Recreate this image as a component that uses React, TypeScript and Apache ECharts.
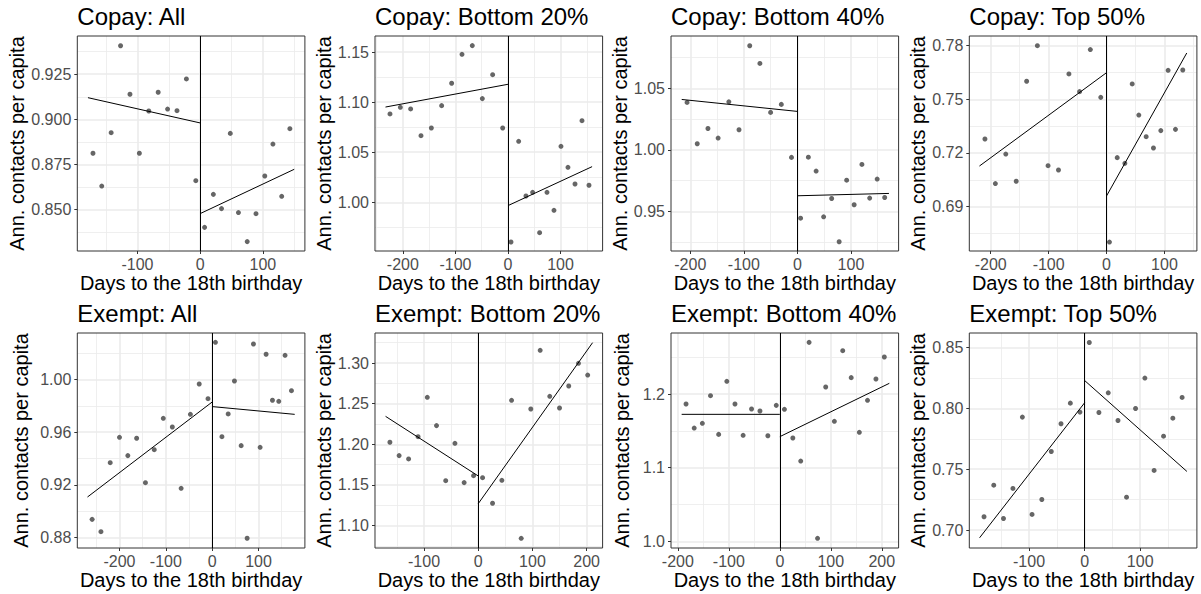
import React, { useEffect, useRef } from "react";
import * as echarts from "echarts";

// ---------- data ----------
const panelTitles = [
  "Copay: All",
  "Copay: Bottom 20%",
  "Copay: Bottom 40%",
  "Copay: Top 50%",
  "Exempt: All",
  "Exempt: Bottom 20%",
  "Exempt: Bottom 40%",
  "Exempt: Top 50%",
];

const xAxisTitle = "Days to the 18th birthday";
const yAxisTitle = "Ann. contacts per capita";

const copayAllPoints = [
  [-171, 0.8812], [-157, 0.863], [-142, 0.8926], [-127, 0.9408], [-112, 0.9139], [-97, 0.8812],
  [-82, 0.9046], [-67, 0.915], [-52, 0.9057], [-37, 0.9048], [-22, 0.9224], [-7, 0.866],
  [7, 0.8401], [21, 0.8584], [34, 0.8505], [48, 0.8922], [61, 0.8483], [75, 0.8322],
  [89, 0.8477], [103, 0.8686], [116, 0.8863], [130, 0.8573], [143, 0.8948],
];
const copayAllFitBefore = [[-179, 0.912], [0, 0.898]];
const copayAllFitAfter = [[1, 0.8479], [150, 0.8723]];

const copayB20Points = [
  [-224.5, 1.0882], [-204.8, 1.0948], [-185.2, 1.0932], [-165.5, 1.0665], [-145.8, 1.0742],
  [-126.2, 1.0965], [-107.2, 1.1188], [-87.5, 1.1477], [-67.9, 1.1564], [-48.8, 1.1035],
  [-29.2, 1.1274], [-10.1, 1.0742], [5.7, 0.9604], [20.3, 1.0609], [34.2, 1.0063],
  [46.9, 1.01], [60.2, 0.9697], [74.2, 1.01], [87.5, 0.992], [100.8, 1.0559],
  [114.1, 1.0349], [127.5, 1.0183], [140.8, 1.0815], [154.1, 1.017],
];
const copayB20FitBefore = [[-233, 1.0951], [0, 1.1178]];
const copayB20FitAfter = [[0, 0.9967], [160, 1.0356]];

const copayB40Points = [
  [-206, 1.0385], [-187, 1.0049], [-167, 1.0173], [-148, 1.0095], [-128, 1.039], [-109, 1.0163],
  [-89, 1.0846], [-70, 1.0702], [-50, 1.0304], [-30, 1.0369], [-11, 0.9938], [6, 0.9444],
  [20.5, 0.994], [35, 0.9827], [49, 0.9455], [64, 0.9604], [78, 0.9252], [92, 0.9753],
  [106, 0.9553], [120.5, 0.9881], [135, 0.9607], [149, 0.9762], [163, 0.9612],
];
const copayB40FitBefore = [[-216, 1.0409], [0, 1.0312]];
const copayB40FitAfter = [[0, 0.9626], [171, 0.9645]];

const copayTop50Points = [
  [-210, 0.7278], [-192, 0.7029], [-174, 0.7194], [-156, 0.7042], [-138, 0.7601], [-119.5, 0.78],
  [-101, 0.7129], [-83, 0.7105], [-65, 0.7642], [-46.6, 0.7543], [-28, 0.7778], [-10, 0.7511],
  [5, 0.6702], [18.4, 0.7174], [31.6, 0.7142], [44.3, 0.7586], [55.7, 0.7412], [68.4, 0.7291],
  [81, 0.7228], [93.7, 0.7325], [106.3, 0.7662], [119, 0.7332], [131.6, 0.7664],
];
const copayTop50FitBefore = [[-219.5, 0.7127], [0, 0.7649]];
const copayTop50FitAfter = [[0, 0.696], [138.5, 0.7759]];

const exemptAllPoints = [
  [-259, 0.8937], [-240, 0.8843], [-220, 0.9368], [-200, 0.9561], [-182, 0.9422], [-163, 0.9554],
  [-144, 0.9216], [-125, 0.9467], [-105.5, 0.9706], [-86, 0.964], [-67, 0.9173], [-47, 0.9736],
  [-28, 0.9967], [-9, 0.9855], [7, 1.0284], [21, 0.9566], [34.5, 0.9739], [48, 0.999],
  [62.5, 0.9498], [75.4, 0.8793], [89, 1.0271], [103.4, 0.9485], [116.3, 1.0193], [130, 0.9843],
  [143.6, 0.9835], [157.2, 1.0185], [171, 0.9916],
];
const exemptAllFitBefore = [[-269, 0.9107], [0, 0.983]];
const exemptAllFitAfter = [[0, 0.9795], [178, 0.9736]];

const exemptB20Points = [
  [-163, 1.2025], [-146, 1.1861], [-128.5, 1.182], [-111, 1.2094], [-94, 1.2578], [-77, 1.223],
  [-60, 1.1553], [-43, 1.2012], [-26, 1.1529], [-8.6, 1.1615], [8, 1.159], [26.4, 1.1275],
  [43.6, 1.1557], [61.5, 1.2541], [79.3, 1.0844], [97, 1.2434], [114.3, 1.3156], [132, 1.259],
  [150, 1.2447], [167, 1.2717], [185, 1.2996], [202, 1.2852],
];
const exemptB20FitBefore = [[-171, 1.2344], [0, 1.1611]];
const exemptB20FitAfter = [[0, 1.127], [211, 1.325]];

const exemptB40Points = [
  [-184, 1.1864], [-168, 1.1538], [-152, 1.1602], [-136, 1.1977], [-120, 1.1452], [-104, 1.2172],
  [-88, 1.1864], [-72, 1.1439], [-55.5, 1.1796], [-39, 1.1769], [-23.5, 1.1434], [-7, 1.1846],
  [9, 1.1792], [25.5, 1.1403], [41, 1.109], [57.4, 1.2701], [74, 1.0041], [90, 1.2095],
  [107, 1.1629], [123.4, 1.2588], [140, 1.2222], [156, 1.148], [172, 1.1914], [188.6, 1.2204],
  [205, 1.2502],
];
const exemptB40FitBefore = [[-192.6, 1.1724], [0, 1.1724]];
const exemptB40FitAfter = [[0, 1.1421], [214.8, 1.2145]];

const exemptTop50Points = [
  [-181, 0.7109], [-163.5, 0.7369], [-146, 0.7095], [-129, 0.7342], [-112, 0.7929], [-94.6, 0.7128],
  [-77, 0.7251], [-60, 0.7646], [-42.5, 0.7874], [-25.7, 0.8044], [-8.4, 0.797], [8.4, 0.8543],
  [25.7, 0.7967], [42.5, 0.8129], [60, 0.7901], [75.4, 0.727], [91.6, 0.8], [108.4, 0.825],
  [125, 0.749], [142, 0.7772], [158.7, 0.792], [175.4, 0.8091],
];
const exemptTop50FitBefore = [[-189, 0.6936], [0, 0.8047]];
const exemptTop50FitAfter = [[0, 0.823], [184, 0.7482]];

// tick breaks
const xBreaks = [
  [-100, 0, 100],
  [-200, -100, 0, 100],
  [-200, -100, 0, 100],
  [-200, -100, 0, 100],
  [-200, -100, 0, 100],
  [-100, 0, 100, 200],
  [-200, -100, 0, 100, 200],
  [-100, 0, 100],
];
const yBreaks = [
  [0.85, 0.875, 0.9, 0.925],
  [1.0, 1.05, 1.1, 1.15],
  [0.95, 1.0, 1.05],
  [0.69, 0.72, 0.75, 0.78],
  [0.88, 0.92, 0.96, 1.0],
  [1.1, 1.15, 1.2, 1.25, 1.3],
  [1.0, 1.1, 1.2],
  [0.7, 0.75, 0.8, 0.85],
];
const yDecimals = [3, 2, 2, 2, 2, 2, 1, 2];

// axis limits (scale ranges)
const xLimits = [
  [-196, 167], [-253, 180], [-236, 189], [-237, 156],
  [-291, 200], [-190.5, 229.5], [-213.5, 233], [-207.5, 202],
];
const yLimits = [
  [0.827, 0.9462], [0.9514, 1.166], [0.9177, 1.0925], [0.6652, 0.7854],
  [0.8719, 1.0355], [1.0725, 1.3369], [0.991, 1.2828], [0.6852, 0.8621],
];

const panelPoints = [
  copayAllPoints, copayB20Points, copayB40Points, copayTop50Points,
  exemptAllPoints, exemptB20Points, exemptB40Points, exemptTop50Points,
];
const panelFitBefore = [
  copayAllFitBefore, copayB20FitBefore, copayB40FitBefore, copayTop50FitBefore,
  exemptAllFitBefore, exemptB20FitBefore, exemptB40FitBefore, exemptTop50FitBefore,
];
const panelFitAfter = [
  copayAllFitAfter, copayB20FitAfter, copayB40FitAfter, copayTop50FitAfter,
  exemptAllFitAfter, exemptB20FitAfter, exemptB40FitAfter, exemptTop50FitAfter,
];

// ---------- layout / style ----------
const FONT = "'Liberation Sans', Arial, Helvetica, sans-serif";
const colLeft = [77.3, 375, 671, 969.3];
const rowTop = [36, 333];
const plotW = 227.6;
const plotH = 215;
const yNameGap = [46, 40, 39, 39];

function minorBreaks(breaks: number[], lim: number[]) {
  const d = breaks[1] - breaks[0];
  const ext = [breaks[0] - d, ...breaks, breaks[breaks.length - 1] + d];
  const out: number[] = [];
  for (let i = 0; i < ext.length - 1; i++) {
    const m = (ext[i] + ext[i + 1]) / 2;
    if (m > lim[0] && m < lim[1]) out.push(m);
  }
  return out;
}

function buildOption() {
  const grid: any[] = [];
  const xAxis: any[] = [];
  const yAxis: any[] = [];
  const series: any[] = [];
  const title: any[] = [];

  panelTitles.forEach((t, i) => {
    const c = i % 4;
    const r = Math.floor(i / 4);
    grid.push({
      left: colLeft[c],
      top: rowTop[r],
      width: plotW,
      height: plotH,
      show: true,
      borderColor: "#333333",
      borderWidth: 1,
      backgroundColor: "transparent",
      z: 5,
    });
    title.push({
      text: t,
      left: colLeft[c],
      top: rowTop[r] - 31.5,
      padding: 0,
      textStyle: { fontSize: 24, fontWeight: "normal", color: "#000", fontFamily: FONT },
    });
    const gi = i;
    // major x
    xAxis.push({
      gridIndex: gi,
      type: "value",
      min: xLimits[i][0],
      max: xLimits[i][1],
      position: "bottom",
      axisLine: { show: false, onZero: false },
      axisTick: { show: true, length: 3, customValues: xBreaks[i], lineStyle: { color: "#333333", width: 1 } },
      axisLabel: { customValues: xBreaks[i], color: "#4d4d4d", fontSize: 16, margin: 5, fontFamily: FONT },
      splitLine: { show: true, lineStyle: { color: "#ebebeb", width: 1.6 } },
      name: xAxisTitle,
      nameLocation: "middle",
      nameGap: 19,
      nameTextStyle: { fontSize: 20, color: "#000", fontFamily: FONT },
    });
    // minor x
    xAxis.push({
      gridIndex: gi,
      type: "value",
      min: xLimits[i][0],
      max: xLimits[i][1],
      position: "bottom",
      axisLine: { show: false, onZero: false },
      axisTick: { show: false, customValues: minorBreaks(xBreaks[i], xLimits[i]) },
      axisLabel: { show: false },
      splitLine: { show: true, lineStyle: { color: "#ebebeb", width: 0.8 } },
    });
    // major y
    yAxis.push({
      gridIndex: gi,
      type: "value",
      min: yLimits[i][0],
      max: yLimits[i][1],
      position: "left",
      axisLine: { show: false, onZero: false },
      axisTick: { show: true, length: 3, customValues: yBreaks[i], lineStyle: { color: "#333333", width: 1 } },
      axisLabel: {
        customValues: yBreaks[i],
        color: "#4d4d4d",
        fontSize: 16,
        margin: 6,
        fontFamily: FONT,
        formatter: (v: number) => v.toFixed(yDecimals[i]),
      },
      splitLine: { show: true, lineStyle: { color: "#ebebeb", width: 1.6 } },
      name: yAxisTitle,
      nameLocation: "middle",
      nameGap: yNameGap[c],
      nameTextStyle: { fontSize: 20, color: "#000", fontFamily: FONT },
    });
    // minor y
    yAxis.push({
      gridIndex: gi,
      type: "value",
      min: yLimits[i][0],
      max: yLimits[i][1],
      position: "left",
      axisLine: { show: false, onZero: false },
      axisTick: { show: false, customValues: minorBreaks(yBreaks[i], yLimits[i]) },
      axisLabel: { show: false },
      splitLine: { show: true, lineStyle: { color: "#ebebeb", width: 0.8 } },
    });

    const xi = 2 * i;
    const yi = 2 * i;
    series.push({
      type: "scatter",
      xAxisIndex: xi,
      yAxisIndex: yi,
      data: panelPoints[i],
      symbolSize: 5,
      itemStyle: { color: "#666666", opacity: 1 },
      z: 3,
      markLine: {
        silent: true,
        symbol: ["none", "none"],
        label: { show: false },
        lineStyle: { color: "#000", width: 1, type: "solid" },
        data: [{ xAxis: 0 }],
      },
    });
    series.push({
      type: "line",
      xAxisIndex: xi,
      yAxisIndex: yi,
      data: panelFitBefore[i],
      symbol: "none",
      lineStyle: { color: "#000", width: 1 },
      z: 4,
    });
    series.push({
      type: "line",
      xAxisIndex: xi,
      yAxisIndex: yi,
      data: panelFitAfter[i],
      symbol: "none",
      lineStyle: { color: "#000", width: 1 },
      z: 4,
    });
  });

  return {
    animation: false,
    backgroundColor: "#ffffff",
    textStyle: { fontFamily: FONT },
    title,
    grid,
    xAxis,
    yAxis,
    series,
  };
}

export default function App() {
  const ref = useRef<HTMLDivElement>(null);
  useEffect(() => {
    if (!ref.current) return;
    const chart = echarts.init(ref.current, undefined, { renderer: "svg" });
    chart.setOption(buildOption() as any);
    return () => chart.dispose();
  }, []);
  return (
    <div
      ref={ref}
      style={{ position: "absolute", left: 0, top: 0, width: 1201, height: 594, background: "#fff" }}
    />
  );
}
